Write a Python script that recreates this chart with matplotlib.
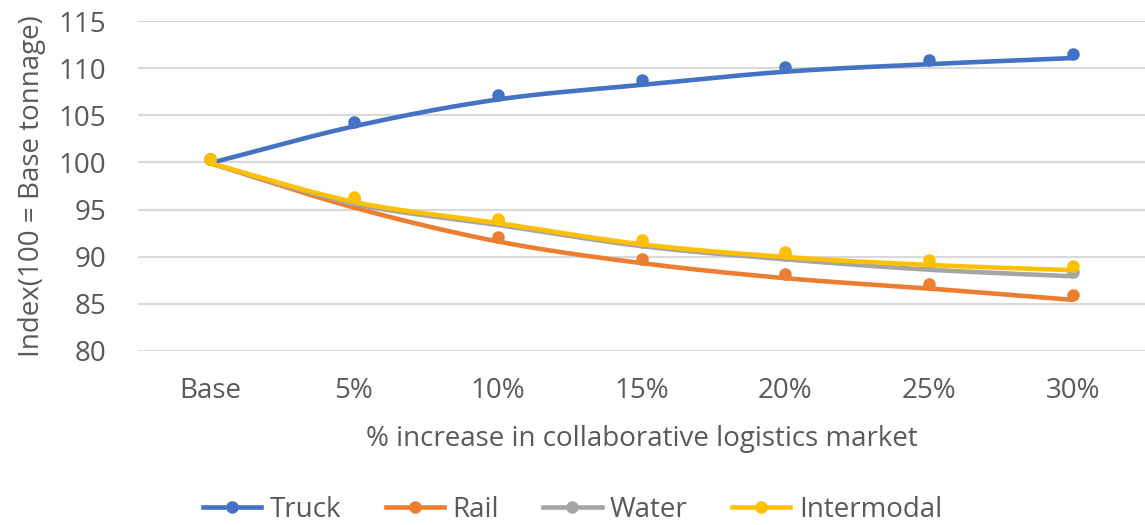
import numpy as np
import matplotlib
matplotlib.use("Agg")
import matplotlib.pyplot as plt
from matplotlib.lines import Line2D
from matplotlib.transforms import offset_copy

categories = ["Base", "5%", "10%", "15%", "20%", "25%", "30%"]
truck = [100.4, 104.3, 107.15, 108.7, 110.1, 110.9, 111.55]
rail = [100.4, 95.7, 92.1, 89.8, 88.2, 87.1, 85.9]
water = [100.4, 96.1, 93.85, 91.6, 90.2, 89.1, 88.4]
intermodal = [100.4, 96.3, 94.05, 91.8, 90.45, 89.6, 89.05]
series = [("Truck", truck, "#4472C4"), ("Rail", rail, "#ED7D31"),
          ("Water", water, "#A5A5A5"), ("Intermodal", intermodal, "#FFC000")]

FONT = ['Open Sans', 'DejaVu Sans']
plt.rcParams['font.family'] = FONT
fig = plt.figure(figsize=(11.45, 5.25), dpi=100)
ax = fig.add_axes([138/1145, 1-351/525, 1-138/1145, 330/525])


def smooth(xs, ys, n=40):
    # Catmull-Rom style smoothing (like Excel smoothed lines)
    xs = np.asarray(xs, float)
    ys = np.asarray(ys, float)
    px = np.concatenate([[2 * xs[0] - xs[1]], xs, [2 * xs[-1] - xs[-2]]])
    py = np.concatenate([[2 * ys[0] - ys[1]], ys, [2 * ys[-1] - ys[-2]]])
    ox, oy = [], []
    t = np.linspace(0, 1, n)
    for i in range(1, len(px) - 2):
        p0 = np.array([px[i], py[i]])
        p3 = np.array([px[i + 1], py[i + 1]])
        p1 = p0 + (np.array([px[i + 1], py[i + 1]]) - np.array([px[i - 1], py[i - 1]])) / 6
        p2 = p3 - (np.array([px[i + 2], py[i + 2]]) - np.array([px[i], py[i]])) / 6
        b = ((1 - t) ** 3)[:, None] * p0 + (3 * (1 - t) ** 2 * t)[:, None] * p1 \
            + (3 * (1 - t) * t ** 2)[:, None] * p2 + (t ** 3)[:, None] * p3
        ox.extend(b[:, 0])
        oy.extend(b[:, 1])
    return np.array(ox), np.array(oy)


x = np.arange(len(categories))
line_tr = offset_copy(ax.transData, fig=fig, y=-4.5, units='dots')
for name, vals, col in series:
    sx, sy = smooth(x, vals)
    ax.plot(sx, sy, color=col, lw=3.3, solid_capstyle='round', zorder=3, transform=line_tr)
    ax.plot(x, vals, 'o', color=col, ms=8, zorder=3)

ax.set_xlim(-0.5, len(categories) - 0.5)
ax.set_ylim(80, 115)
ax.set_yticks(np.arange(80, 116, 5))
ax.set_xticks(x)
ax.set_xticklabels(categories)
ax.grid(axis='y', color='#D9D9D9', lw=1.5)
ax.set_axisbelow(True)
for s in ax.spines.values():
    s.set_visible(False)
ax.tick_params(length=0, labelsize=20, colors='#595959')
ax.tick_params(axis='y', pad=23)
ax.tick_params(axis='x', pad=19)
ax.set_xlabel("% increase in collaborative logistics market", fontsize=20, color='#595959', labelpad=14)
ax.set_ylabel("Index(100 = Base tonnage)", fontsize=20, color='#595959', labelpad=9)

handles = [Line2D([0], [0], color=c, lw=3.3, marker='o', ms=8) for _, _, c in series]
fig.legend(handles, [n for n, _, _ in series], loc='center', ncol=4, frameon=False,
           fontsize=20, labelcolor='#595959', bbox_to_anchor=(0.5, 1 - 510/525),
           handlelength=2.1, columnspacing=1.6, handletextpad=0.3)
fig.savefig("out.png", dpi=100)
